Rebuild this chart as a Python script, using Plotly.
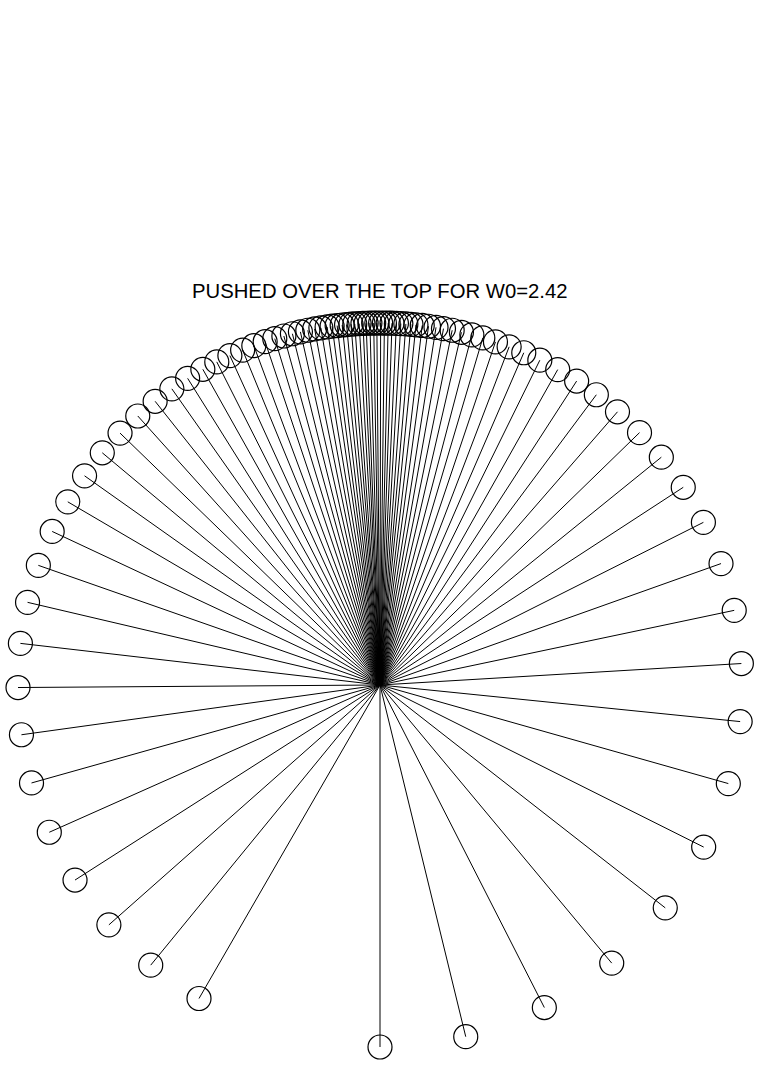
import math
import plotly.graph_objects as go

# Pendulum angles (degrees from the downward vertical, counter-clockwise on screen
# toward the right), read off the snapshots in order of time.
angles_deg = [
    0.0, 13.7, 27.0, 39.8, 52.0, 63.4, 74.2, 84.2, 93.4, 101.9, 109.6, 116.7,
    123.1, 129.0, 134.2, 139.0, 143.3, 147.1,
    150.6, 153.8, 156.6, 159.1, 161.4, 163.5, 165.3, 167.0, 168.5, 169.9,
    171.1, 172.3, 173.3, 174.3, 175.1, 175.9, 176.7, 177.4,
    178.1, 178.7, 179.3, 179.9, 180.5, 181.0, 181.6, 182.2, 182.7, 183.3,
    184.0, 184.6, 185.3, 186.0, 186.8, 187.6, 188.4, 189.4,
    190.4, 191.5, 192.7, 194.0, 195.4, 196.9, 198.5, 200.4, 202.3, 204.5,
    206.8, 209.3, 212.1, 215.1, 218.4, 222.0, 225.9, 230.1,
    234.7, 239.6, 244.9, 250.7, 256.8, 263.4, 270.4, 277.9, 285.7, 294.0,
    302.6, 311.5, 320.7, 330.0,
]
pendulum_length = 1.0
title_text = "PUSHED OVER THE TOP FOR W0=2.42"

# bob positions (pivot at origin)
bx = [pendulum_length * math.sin(math.radians(a)) for a in angles_deg]
by = [-pendulum_length * math.cos(math.radians(a)) for a in angles_deg]

rod_x, rod_y = [], []
for x, y in zip(bx, by):
    rod_x += [0.0, x, None]
    rod_y += [0.0, y, None]

W, H = 759, 1065
px_per_unit = 362.0
pivot_px = (380.0, 685.0)

fig = go.Figure()
fig.add_trace(go.Scatter(x=rod_x, y=rod_y, mode="lines", cliponaxis=False,
                         line=dict(color="black", width=1), hoverinfo="skip"))
fig.add_trace(go.Scatter(x=bx, y=by, mode="markers", cliponaxis=False,
                         marker=dict(symbol="circle-open", size=24,
                                     color="black", line=dict(color="black", width=1.2)),
                         hoverinfo="skip"))

fig.add_annotation(x=pivot_px[0] / W, y=1 - 291.0 / H,
                   xref="paper", yref="paper",
                   text=title_text, showarrow=False, xanchor="center", yanchor="middle",
                   font=dict(family="Liberation Sans, Arial, Helvetica, sans-serif",
                             size=20.3, color="black"))

fig.update_layout(
    width=W, height=H, margin=dict(l=0, r=0, t=0, b=0),
    paper_bgcolor="white", plot_bgcolor="white", showlegend=False,
    xaxis=dict(range=[-pivot_px[0] / px_per_unit, (W - pivot_px[0]) / px_per_unit],
               visible=False, fixedrange=True),
    yaxis=dict(range=[-(H - pivot_px[1]) / px_per_unit, pivot_px[1] / px_per_unit],
               visible=False, fixedrange=True),
)
fig.write_html("out.html", config={"displayModeBar": False},
               post_script="document.body.style.margin='0px';document.body.style.overflow='hidden';")
